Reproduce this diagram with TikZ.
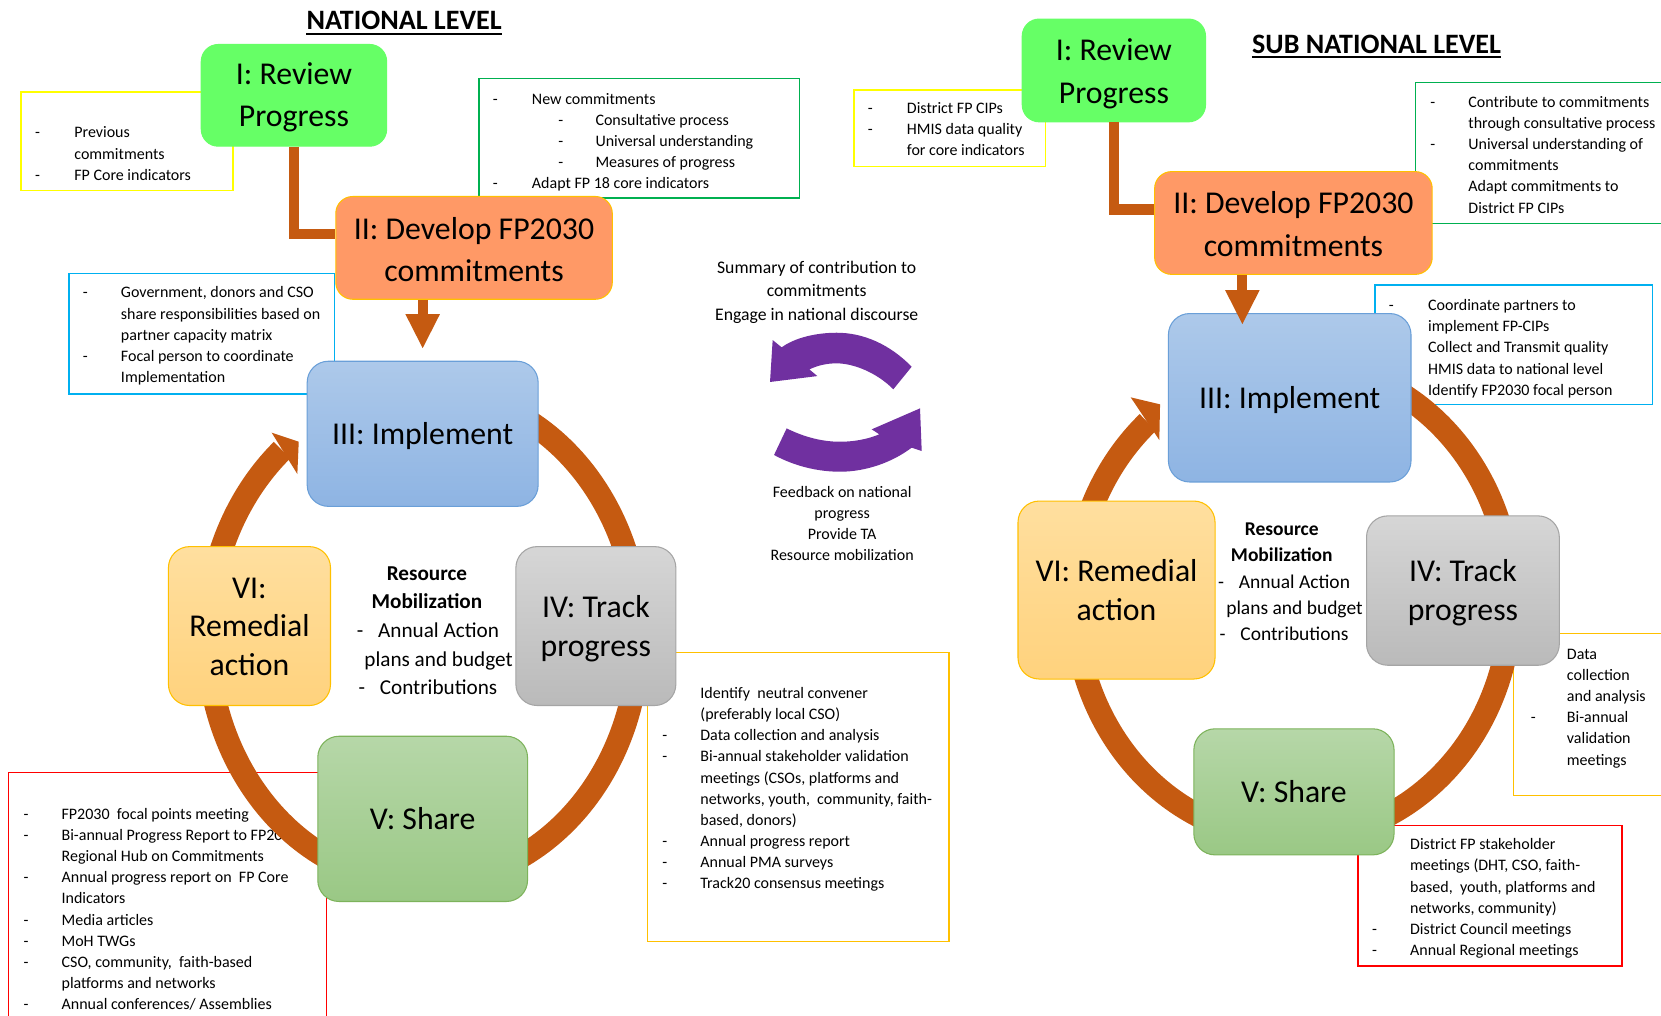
\documentclass[tikz,border=0pt]{standalone}
\usepackage{fontspec}
\setmainfont{Carlito}
\usetikzlibrary{arrows.meta,calc}
\definecolor{ringc}{HTML}{C55A11}
\definecolor{purp}{HTML}{7030A0}
\definecolor{revg}{HTML}{66FF66}
\definecolor{devo}{HTML}{FF9966}
\definecolor{devb}{HTML}{FFC000}
\definecolor{impt}{HTML}{ADC9EA}
\definecolor{impb}{HTML}{8EB4E3}
\definecolor{impd}{HTML}{6A9FD8}
\definecolor{trkt}{HTML}{D6D6D6}
\definecolor{trkb}{HTML}{BABABA}
\definecolor{trkd}{HTML}{A5A5A5}
\definecolor{shrt}{HTML}{B6D7A8}
\definecolor{shrb}{HTML}{9AC885}
\definecolor{shrd}{HTML}{7DB35B}
\definecolor{remt}{HTML}{FFDF9F}
\definecolor{remb}{HTML}{FFD27D}
\definecolor{remd}{HTML}{FFC000}
\definecolor{bxy}{HTML}{FFFF00}
\definecolor{bxg}{HTML}{00B050}
\definecolor{bxb}{HTML}{00B0F0}
\definecolor{bxo}{HTML}{FFC000}
\definecolor{bxr}{HTML}{FF0000}
\begin{document}
\begin{tikzpicture}[x=1pt,y=-1pt,
  frame/.style={line width=1.3pt},
  txt/.style={inner sep=0pt, anchor=north west, yshift=-2pt, font=\fontsize{15.1}{20}\selectfont},
  big/.style={inner sep=0pt, align=center, rounded corners=16pt, line width=1pt, text height=20pt, text depth=0pt, font=\fontsize{30}{40}\selectfont},
  ringline/.style={draw=ringc, line width=22pt},
  conn/.style={draw=ringc, line width=10pt},
  darr/.style={draw=ringc, line width=9.5pt, -{Triangle[width=30pt,length=33pt]}},
  ctr/.style={inner sep=0pt, align=center},
  ttl/.style={inner sep=0pt, anchor=base, font=\bfseries\fontsize{26.5}{30}\selectfont}]
\useasboundingbox (0,0) rectangle (1568,959);
\fill[white] (0,0) rectangle (1568,959);

% ---------- titles
\node[ttl] (t1) at (381.5,28.3) {NATIONAL LEVEL};
\draw[line width=2pt] ([yshift=-3.2pt]t1.south west) -- ([yshift=-3.2pt]t1.south east);
\node[ttl] (t2) at (1299.5,50.3) {SUB NATIONAL LEVEL};
\draw[line width=2pt] ([yshift=-3.2pt]t2.south west) -- ([yshift=-3.2pt]t2.south east);

% ---------- left text boxes
\draw[frame, draw=bxy] (20,87) rectangle (220,180);
\node[txt] (y1t) at (33,114) {\begin{tabular}{@{}p{37pt}@{}l@{}}
-&Previous\\ &commitments\\ -&FP Core indicators\end{tabular}};

\draw[frame, draw=bxg] (452,74) rectangle (755,187);
\node[txt] (g1t) at (465,82) {\begin{tabular}{@{}p{37pt}@{}l@{}}
-&New commitments\\
&\hspace*{25pt}\makebox[35pt][l]{-}Consultative process\\
&\hspace*{25pt}\makebox[35pt][l]{-}Universal understanding\\
&\hspace*{25pt}\makebox[35pt][l]{-}Measures of progress\\
-&Adapt FP 18 core indicators\end{tabular}};

\draw[frame, draw=bxb] (65,258) rectangle (316,372);
\node[txt] (b1t) at (78,265) {\begin{tabular}{@{}p{36pt}@{}l@{}}
-&Government, donors and CSO\\ &share responsibilities based on\\ &partner capacity matrix\\
-&Focal person to coordinate\\ &Implementation\end{tabular}};

\draw[frame, draw=bxo] (611,616) rectangle (896,889);
\node[txt] (o1t) at (625,643) {\begin{tabular}{@{}p{36pt}@{}l@{}}
&Identify~ neutral convener\\ &(preferably local CSO)\\
-&Data collection and analysis\\
-&Bi-annual stakeholder validation\\ &meetings (CSOs, platforms and\\ &networks, youth,~ community, faith-\\ &based, donors)\\
-&Annual progress report\\
-&Annual PMA surveys\\
-&Track20 consensus meetings\end{tabular}};

\draw[frame, draw=bxr] (8,990) -- (8,729) -- (308,729) -- (308,990);
\node[txt] (r1t) at (22,757) {\begin{tabular}{@{}p{36pt}@{}l@{}}
-&FP2030~ focal points meeting\\
-&Bi-annual Progress Report to FP2030\\ &Regional Hub on Commitments\\
-&Annual progress report on~ FP Core\\ &Indicators\\
-&Media articles\\
-&MoH TWGs\\
-&CSO, community,~ faith-based\\ &platforms and networks\\
-&Annual conferences/ Assemblies\end{tabular}};

% ---------- right text boxes
\draw[frame, draw=bxy] (806,85) rectangle (987,157);
\node[txt] (y2t) at (819,91) {\begin{tabular}{@{}p{37pt}@{}l@{}}
-&District FP CIPs\\ -&HMIS data quality\\ &for core indicators\end{tabular}};

\draw[frame, draw=bxg] (1336,78) rectangle (1620,211);
\node[txt] (g2t) at (1350,85) {\begin{tabular}{@{}p{36pt}@{}l@{}}
-&Contribute to commitments\\ &through consultative process\\
-&Universal understanding of\\ &commitments\\ &Adapt commitments to\\ &District FP CIPs\end{tabular}};

\draw[frame, draw=bxb] (1298,269) rectangle (1560,382);
\node[txt] (b2t) at (1311,277) {\begin{tabular}{@{}p{37pt}@{}l@{}}
-&Coordinate partners to\\ &implement FP-CIPs\\ &Collect and Transmit quality\\
&HMIS data to national level\\ &Identify FP2030 focal person\end{tabular}};

\draw[frame, draw=bxo] (1429,598) rectangle (1620,751);
\node[txt] (o2t) at (1445,606) {\begin{tabular}{@{}p{34pt}@{}l@{}}
&Data\\ &collection\\ &and analysis\\ -&Bi-annual\\ &validation\\ &meetings\end{tabular}};

\draw[frame, draw=bxr] (1282,779) rectangle (1531,912);
\node[txt] (r2t) at (1295,786) {\begin{tabular}{@{}p{36pt}@{}l@{}}
&District FP stakeholder\\ &meetings (DHT, CSO, faith-\\ &based,~ youth, platforms and\\ &networks, community)\\
-&District Council meetings\\ -&Annual Regional meetings\end{tabular}};

% ---------- rings (slightly tall ellipses)
\draw[ringline] (399.5,601) ++(-70:203.5 and 233) arc[start angle=-70,end angle=229.1,x radius=203.5,y radius=233];
\fill[ringc] (256.5,408.5) -- (282,417) -- (280.7,447.5) -- cycle;
\draw[ringline] (1220.3,567) ++(-70:206 and 225) arc[start angle=-70,end angle=228.4,x radius=206,y radius=225];
\fill[ringc] (1067.4,375.1) -- (1095.1,381.7) -- (1094.4,415.4) -- cycle;

% ---------- purple exchange arrows
\fill[purp] (860.6,346.2) .. controls (840,325) and (815,314.1) .. (789.8,314.1)
  .. controls (770,314.1) and (750,319) .. (737.9,327.9) -- (729.4,321) -- (726.9,360.6)
  -- (771.6,355) -- (764,348.7) .. controls (772,345) and (780,343) .. (789.8,343)
  .. controls (806,343) and (828,352) .. (843.3,367.5) -- cycle;
\fill[purp] (730.7,429.5) .. controls (750,440) and (772,445.3) .. (793,445.3)
  .. controls (818,445.3) and (843,436) .. (860.6,422.6) -- (870.1,425.8) -- (868.5,385.5)
  -- (822.9,405.3) -- (830.1,410) .. controls (818,415) and (805,417) .. (793,417)
  .. controls (775,417) and (758,412) .. (742.6,404.4) -- cycle;

% ---------- left process boxes
\node[big, fill=revg, draw=revg, minimum width=175pt, minimum height=96pt, text height=59.4pt] (rev1) at (277.5,90) {I: Review\\Progress};
\node[big, fill=devo, draw=devb, minimum width=261pt, minimum height=97pt, text height=63.4pt] (dev1) at (447.5,234) {II: Develop FP2030\\commitments};
\node[big, shading=axis, top color=impt, bottom color=impb, draw=impd, minimum width=218pt, minimum height=137pt, rounded corners=20pt] (imp1) at (399,409.5) {III: Implement};
\node[big, shading=axis, top color=trkt, bottom color=trkb, draw=trkd, minimum width=151pt, minimum height=150pt, rounded corners=20pt, font=\fontsize{30}{37}\selectfont, text height=57.4pt] (trk1) at (562.5,591) {IV: Track\\progress};
\node[big, shading=axis, top color=shrt, bottom color=shrb, draw=shrd, minimum width=198pt, minimum height=156pt, rounded corners=20pt] (shr1) at (399,773) {V: Share};
\node[big, shading=axis, top color=remt, bottom color=remb, draw=remd, minimum width=153pt, minimum height=150pt, rounded corners=20pt, font=\fontsize{30}{36.5}\selectfont, text height=93.4pt] (rem1) at (235.5,591) {VI:\\Remedial\\action};

% ---------- right process boxes
\node[big, fill=revg, draw=revg, minimum width=173pt, minimum height=97pt, text height=62pt] (rev2) at (1051.5,66.5) {I: Review\\Progress};
\node[big, fill=devo, draw=devb, minimum width=262pt, minimum height=97pt, text height=62.4pt] (dev2) at (1221,210.5) {II: Develop FP2030\\commitments};
\node[big, shading=axis, top color=impt, bottom color=impb, draw=impd, minimum width=229pt, minimum height=159pt, rounded corners=20pt] (imp2) at (1217.5,375.5) {III: Implement};
\node[big, shading=axis, top color=trkt, bottom color=trkb, draw=trkd, minimum width=182pt, minimum height=141pt, rounded corners=20pt, font=\fontsize{30}{37}\selectfont, text height=56.4pt] (trk2) at (1381,557.5) {IV: Track\\progress};
\node[big, shading=axis, top color=shrt, bottom color=shrb, draw=shrd, minimum width=189pt, minimum height=119pt, rounded corners=20pt] (shr2) at (1221.5,747.5) {V: Share};
\node[big, shading=axis, top color=remt, bottom color=remb, draw=remd, minimum width=186pt, minimum height=168pt, rounded corners=20pt, font=\fontsize{30}{37}\selectfont, text height=57.4pt] (rem2) at (1054,557) {VI: Remedial\\action};

% ---------- connectors
\draw[conn] (rev1.south) |- ([yshift=13pt]dev1.west);
\draw[darr] (dev1.south -| imp1.north) -- ([yshift=11pt]imp1.north);
\draw[conn] (rev2.south) |- ([yshift=13pt]dev2.west);
\coordinate (a2) at (1172.8,306.8);
\draw[darr] (dev2.south -| a2) -- (a2);

% ---------- centre texts
\node[ctr, font=\bfseries\fontsize{20}{26}\selectfont] (resL) at (403,555) {Resource\\Mobilization};
\node[ctr, font=\fontsize{20}{27}\selectfont] (lstL) at (414,622) {\llap{-\hspace{14pt}}Annual Action\\plans and budget\\\llap{-\hspace{14pt}}Contributions};
\node[ctr, font=\bfseries\fontsize{18.4}{24.5}\selectfont] (resR) at (1210,512) {Resource\\Mobilization};
\node[ctr, font=\fontsize{18.4}{24.5}\selectfont] (lstR) at (1222,574) {\llap{-\hspace{14pt}}Annual Action\\plans and budget\\\llap{-\hspace{14pt}}Contributions};
\node[ctr, font=\fontsize{16.7}{22.5}\selectfont] (sumt) at (771,276) {Summary of contribution to\\commitments\\Engage in national discourse};
\node[ctr, font=\fontsize{15.1}{20}\selectfont] (fbt) at (795,494) {Feedback on national\\progress\\Provide TA\\Resource mobilization};
\end{tikzpicture}
\end{document}
